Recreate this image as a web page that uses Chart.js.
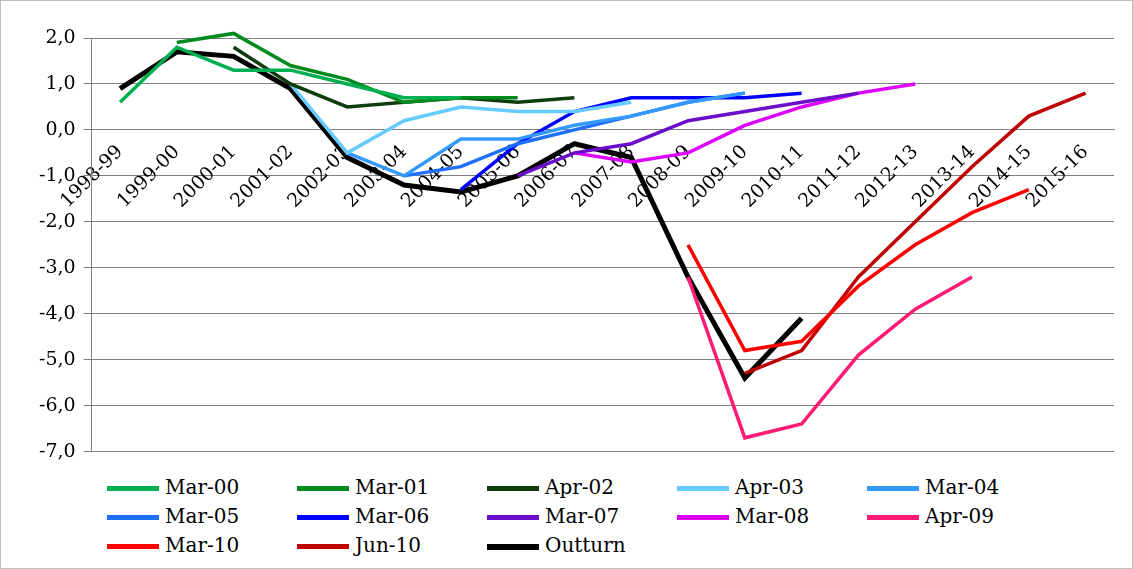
<!DOCTYPE html>
<html>
<head>
<meta charset="utf-8">
<script src="https://cdn.jsdelivr.net/npm/chart.js@4/dist/chart.umd.min.js"></script>
<style>
  body { margin: 0; background: #fff; }
  #wrap { width: 1131px; height: 567px; border: 1px solid #bfbfbf; position: relative; }
  #fcChart { position: absolute; left: 0; top: 0; }
  #legend { position: absolute; left: 106px; top: 472px; width: 1000px;
    font-family: 'DejaVu Serif'; font-size: 20px; color: #000; }
  .item { display: inline-block; width: 190px; height: 29px; line-height: 29px; white-space: nowrap; }
  .swatch { display: inline-block; width: 52px; height: 4px; vertical-align: middle; margin-right: 6px; }
</style>
</head>
<body>
<div id="wrap"><canvas id="fcChart" width="1131" height="470"></canvas><div id="legend"></div></div>
<script>
var years = ['1998-99','1999-00','2000-01','2001-02','2002-03','2003-04','2004-05','2005-06',
  '2006-07','2007-08','2008-09','2009-10','2010-11','2011-12','2012-13','2013-14','2014-15','2015-16'];

var n = null;
var mar00 = [0.6, 1.8, 1.3, 1.3, 1.0, 0.7, 0.7];
var mar01 = [n, 1.9, 2.1, 1.4, 1.1, 0.6, 0.7, 0.7];
var apr02 = [n, n, 1.8, 1.0, 0.5, 0.6, 0.7, 0.6, 0.7];
var apr03 = [n, n, n, 1.0, -0.5, 0.2, 0.5, 0.4, 0.4, 0.6];
var mar04 = [n, n, n, n, -0.5, -1.0, -0.2, -0.2, 0.1, 0.3, 0.6, 0.8];
var mar05 = [n, n, n, n, n, -1.0, -0.8, -0.3, 0.0, 0.3, 0.6, 0.8];
var mar06 = [n, n, n, n, n, n, -1.3, -0.3, 0.4, 0.7, 0.7, 0.7, 0.8];
var mar07 = [n, n, n, n, n, n, n, -1.0, -0.5, -0.3, 0.2, 0.4, 0.6, 0.8];
var mar08 = [n, n, n, n, n, n, n, n, -0.5, -0.7, -0.5, 0.1, 0.5, 0.8, 1.0];
var apr09 = [n, n, n, n, n, n, n, n, n, n, -3.2, -6.7, -6.4, -4.9, -3.9, -3.2];
var mar10 = [n, n, n, n, n, n, n, n, n, n, -2.5, -4.8, -4.6, -3.4, -2.5, -1.8, -1.3];
var jun10 = [n, n, n, n, n, n, n, n, n, n, n, -5.3, -4.8, -3.2, -2.0, -0.8, 0.3, 0.8];
var outturn = [0.9, 1.7, 1.6, 0.9, -0.6, -1.2, -1.35, -1.0, -0.3, -0.6, -3.2, -5.4, -4.1];

function series(label, data, color, width) {
  return { label: label, data: data, borderColor: color, backgroundColor: color,
    borderWidth: width || 3.5, pointRadius: 0, tension: 0, fill: false, clip: false };
}

var serif = 'DejaVu Serif';
var ctx = document.getElementById('fcChart').getContext('2d');
var fcChart = new Chart(ctx, {
  type: 'line',
  data: {
    labels: years,
    datasets: [
      series('Mar-00', mar00, '#00b050'),
      series('Mar-01', mar01, '#008a1e'),
      series('Apr-02', apr02, '#0d3d0d'),
      series('Apr-03', apr03, '#66ccff'),
      series('Mar-04', mar04, '#3399ff'),
      series('Mar-05', mar05, '#1f6fff'),
      series('Mar-06', mar06, '#0000ff'),
      series('Mar-07', mar07, '#6a0dcc'),
      series('Mar-08', mar08, '#dd00ff'),
      series('Apr-09', apr09, '#ff1a75'),
      series('Mar-10', mar10, '#ff0000'),
      series('Jun-10', jun10, '#c00000'),
      series('Outturn', outturn, '#000000', 5)
    ]
  },
  options: {
    responsive: false,
    animation: false,
    layout: { padding: { left: 30, right: 18, top: 37, bottom: 2 } },
    scales: {
      x: {
        position: { y: 0 },
        offset: true,
        grid: { display: false },
        border: { color: '#808080' },
        ticks: { color: '#000', minRotation: 45, maxRotation: 45, autoSkip: false,
          font: { family: serif, size: 19 } }
      },
      y: {
        min: -7, max: 2,
        grid: { color: '#808080' },
        border: { color: '#808080' },
        ticks: { stepSize: 1, color: '#000', padding: 8, font: { family: serif, size: 19 },
          callback: function (v) { return v.toFixed(1).replace('.', ','); } }
      }
    },
    plugins: {
      legend: { display: false },
      tooltip: { enabled: false }
    }
  }
});

// legend in five columns, as in the original
var legend = document.getElementById('legend');
fcChart.data.datasets.forEach(function (ds) {
  var item = document.createElement('span');
  item.className = 'item';
  item.innerHTML = '<span class="swatch" style="background:' + ds.borderColor +
    ';height:' + (ds.borderWidth + 1) + 'px"></span>' + ds.label;
  legend.appendChild(item);
});
</script>
</body>
</html>
